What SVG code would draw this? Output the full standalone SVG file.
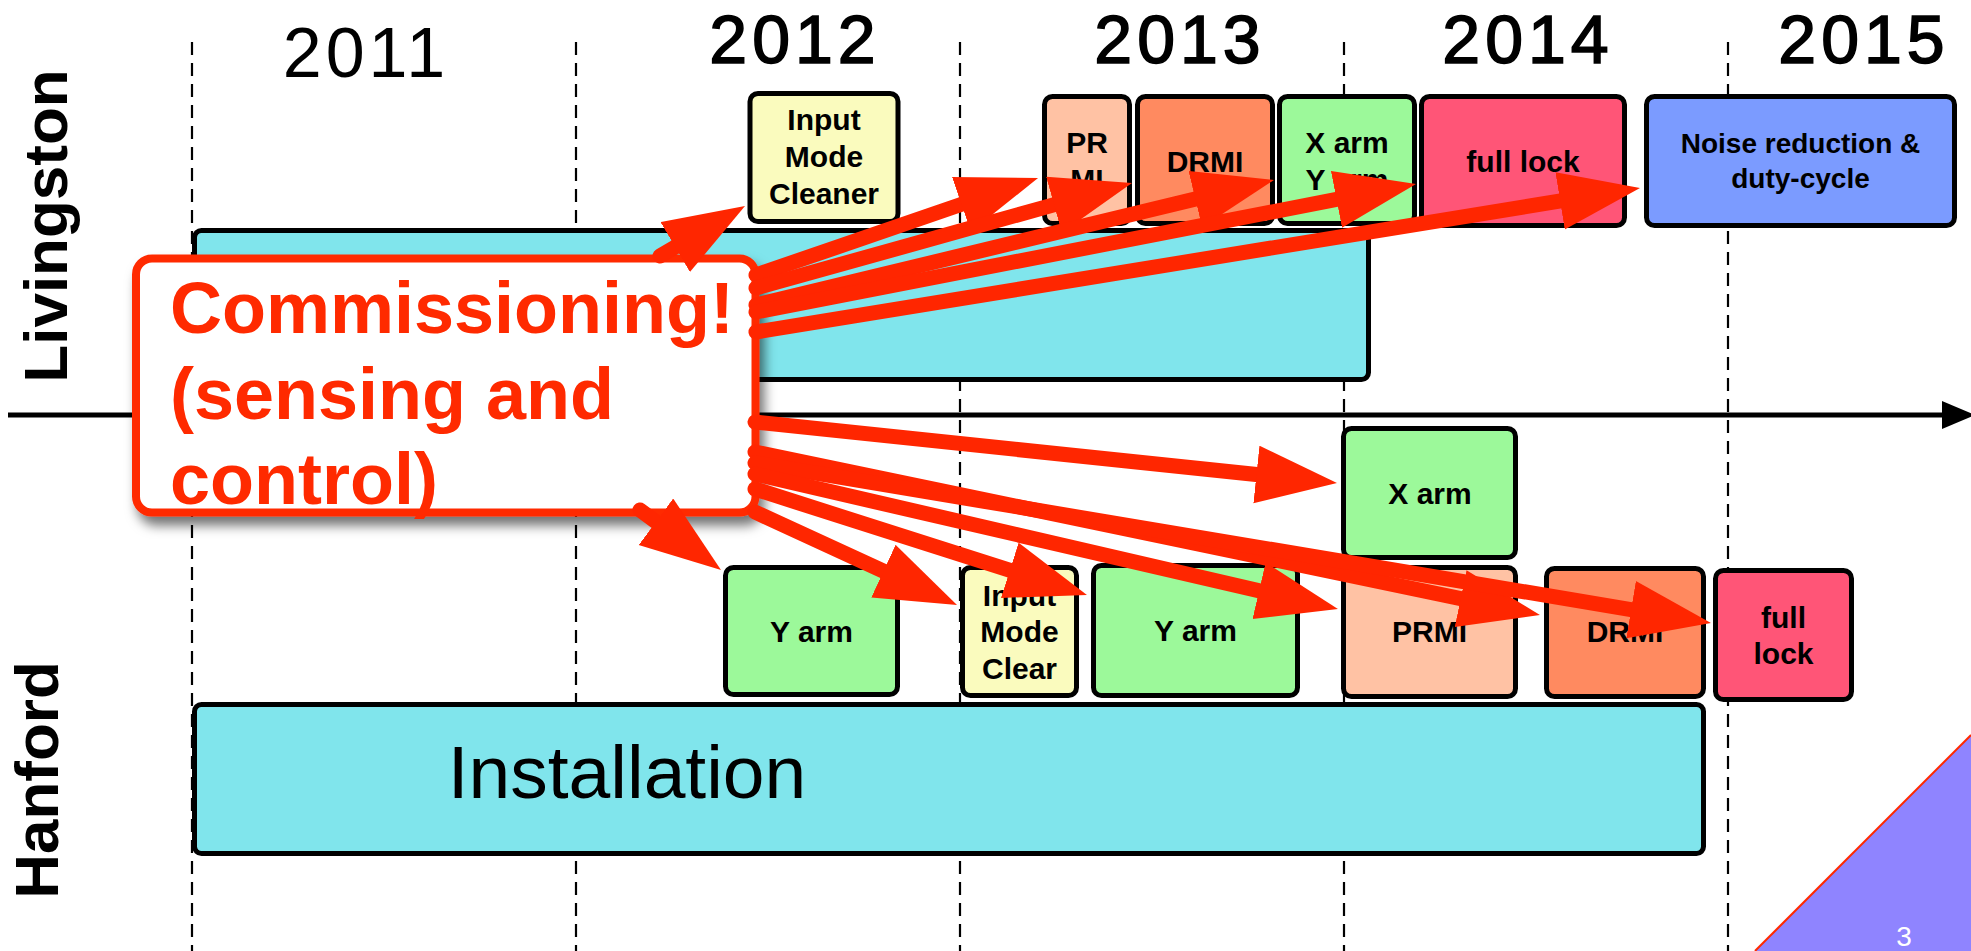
<svg xmlns="http://www.w3.org/2000/svg" width="1971" height="951" viewBox="0 0 1971 951">
<style>
.bg{fill:#ffffff}
.dash{stroke:#000;stroke-width:2.2;stroke-dasharray:13 8;fill:none}
.box{stroke:#000;stroke-width:5;}
.cyan{fill:#80E5EC}
.green{fill:#9CF99A}
.yellow{fill:#FAFBBE}
.peach{fill:#FFC2A4}
.drmi{fill:#FF8A60}
.full{fill:#FF5577}
.noise{fill:#7B9BFF}
.t{font-family:"Liberation Sans",Arial,Helvetica,sans-serif;font-weight:bold;font-size:30px;fill:#000;text-anchor:middle}
.yr{font-family:"Liberation Sans",Arial,Helvetica,sans-serif;font-size:68px;fill:#000;stroke:#000;stroke-width:1.6px;text-anchor:middle;letter-spacing:5px}
.site{font-family:"Liberation Sans",Arial,Helvetica,sans-serif;font-size:62px;font-weight:bold;fill:#000;text-anchor:middle}
.call{font-family:"Liberation Sans",Arial,Helvetica,sans-serif;font-size:72px;font-weight:bold;fill:#FF2A00}
.arr{stroke:#FF2600;stroke-width:15;stroke-linecap:round;fill:none;marker-end:url(#ah)}
</style>
<defs>
<marker id="ah" markerUnits="userSpaceOnUse" markerWidth="82" markerHeight="60" refX="21" refY="29" orient="auto" viewBox="0 0 82 60">
<path d="M0,0 L81,29 L0,58 z" fill="#FF2600"/>
</marker>
<filter id="sh" x="-10%" y="-10%" width="130%" height="140%">
<feDropShadow dx="5" dy="9" stdDeviation="6" flood-color="#000" flood-opacity="0.55"/>
</filter>
</defs>
<rect class="bg" x="0" y="0" width="1971" height="951"/>

<g id="grid">
<line class="dash" x1="192" y1="42" x2="192" y2="951"/>
<line class="dash" x1="576" y1="42" x2="576" y2="951"/>
<line class="dash" x1="960" y1="42" x2="960" y2="951"/>
<line class="dash" x1="1344" y1="42" x2="1344" y2="951"/>
<line class="dash" x1="1728" y1="42" x2="1728" y2="951"/>
</g>

<g id="years">
<text x="366" y="77" style="font-family:'Liberation Sans',Arial,sans-serif;font-size:70px;fill:#000;text-anchor:middle;letter-spacing:4px">2011</text>
<text class="yr" x="795" y="63">2012</text>
<text class="yr" x="1180" y="63">2013</text>
<text class="yr" x="1528" y="63">2014</text>
<text class="yr" x="1864" y="63">2015</text>
</g>

<g id="axis">
<line x1="8" y1="415" x2="1950" y2="415" stroke="#000" stroke-width="5"/>
<polygon points="1942,401 1975,415 1942,429" fill="#000"/>
</g>

<g id="site-labels">
<text class="site" transform="translate(67,226) rotate(-90)">Livingston</text>
<text class="site" transform="translate(58,780) rotate(-90)">Hanford</text>
</g>

<g id="liv-install"><rect class="box cyan" x="194.5" y="230.5" width="1174" height="149" rx="7"/></g>

<g id="liv-imc"><rect class="box yellow" x="750" y="93.5" width="148" height="128" rx="8"/>
<text class="t" x="824" y="130">Input</text><text class="t" x="824" y="167">Mode</text><text class="t" x="824" y="204">Cleaner</text></g>
<g id="liv-prmi"><rect class="box peach" x="1044.5" y="96.5" width="85" height="127" rx="8"/>
<text class="t" x="1087" y="153">PR</text><text class="t" x="1087" y="190">MI</text></g>
<g id="liv-drmi"><rect class="box drmi" x="1137.5" y="96.5" width="135" height="127" rx="8"/>
<text class="t" x="1205" y="172">DRMI</text></g>
<g id="liv-xyarm"><rect class="box green" x="1279.5" y="96.5" width="135" height="127" rx="8"/>
<text class="t" x="1347" y="153">X arm</text><text class="t" x="1347" y="190">Y arm</text></g>
<g id="liv-full"><rect class="box full" x="1421.5" y="96.5" width="203" height="129" rx="8"/>
<text class="t" x="1523" y="172">full lock</text></g>
<g id="liv-noise"><rect class="box noise" x="1646.5" y="96.5" width="308" height="129" rx="8"/>
<text class="t" x="1800.5" y="153" style="font-size:28px">Noise reduction &amp;</text><text class="t" x="1800.5" y="188" style="font-size:28px">duty-cycle</text></g>

<g id="han-install"><rect class="box cyan" x="194.5" y="704.5" width="1509" height="149" rx="7"/>
<text x="627" y="798" style="font-family:'Liberation Sans',Arial,sans-serif;font-size:75px;fill:#000;text-anchor:middle">Installation</text></g>

<g id="han-xarm"><rect class="box green" x="1343.5" y="428.5" width="172" height="129" rx="8"/>
<text class="t" x="1430" y="504">X arm</text></g>
<g id="han-yarm1"><rect class="box green" x="725.5" y="567.5" width="172" height="127" rx="8"/>
<text class="t" x="811.5" y="642">Y arm</text></g>
<g id="han-imc"><rect class="box yellow" x="962.5" y="567.5" width="114" height="128" rx="8"/>
<text class="t" x="1019.5" y="606">Input</text><text class="t" x="1019.5" y="642">Mode</text><text class="t" x="1019.5" y="679">Clear</text></g>
<g id="han-yarm2"><rect class="box green" x="1093.5" y="565.5" width="204" height="130" rx="8"/>
<text class="t" x="1195.5" y="641">Y arm</text></g>
<g id="han-prmi"><rect class="box peach" x="1343.5" y="567.5" width="172" height="129" rx="8"/>
<text class="t" x="1429.5" y="642">PRMI</text></g>
<g id="han-drmi"><rect class="box drmi" x="1546.5" y="568.5" width="157" height="128" rx="8"/>
<text class="t" x="1625" y="642">DRMI</text></g>
<g id="han-full"><rect class="box full" x="1715.5" y="570.5" width="136" height="129" rx="8"/>
<text class="t" x="1783.5" y="628">full</text><text class="t" x="1783.5" y="664">lock</text></g>

<g id="callout">
<rect x="136" y="258.5" width="619.5" height="254" rx="16" fill="#fff" stroke="#FF2A00" stroke-width="8" filter="url(#sh)"/>
<text class="call" x="170" y="333">Commissioning!</text>
<text class="call" x="170" y="419">(sensing and</text>
<text class="call" x="170" y="504">control)</text>
</g>

<g id="connectors">
<line class="arr" x1="660" y1="256" x2="693.3" y2="236.4"/>
<line class="arr" x1="756" y1="275" x2="981.3" y2="197.5"/>
<line class="arr" x1="756" y1="288" x2="1074.2" y2="199.1"/>
<line class="arr" x1="756" y1="305" x2="1215.7" y2="194.1"/>
<line class="arr" x1="756" y1="312" x2="1357.1" y2="195.4"/>
<line class="arr" x1="756" y1="332" x2="1580.8" y2="197.6"/>
<line class="arr" x1="755" y1="422" x2="1277.3" y2="476.7"/>
<line class="arr" x1="755" y1="452" x2="1481.2" y2="602.8"/>
<line class="arr" x1="755" y1="463" x2="1651.8" y2="613.1"/>
<line class="arr" x1="755" y1="474" x2="1279.5" y2="595.5"/>
<line class="arr" x1="755" y1="489" x2="1029.8" y2="576.7"/>
<line class="arr" x1="755" y1="512" x2="902.5" y2="579.9"/>
<line class="arr" x1="640" y1="510" x2="672.8" y2="534.3"/>
</g>

<g id="corner">
<polygon points="1971,735 1971,951 1755,951" fill="#8F84FF"/>
<line x1="1971" y1="735" x2="1755" y2="951" stroke="#FF2A00" stroke-width="2"/>
<text x="1904" y="946" style="font-family:'Liberation Sans',Arial,sans-serif;font-size:28px;fill:#fff;text-anchor:middle">3</text>
</g>
</svg>
